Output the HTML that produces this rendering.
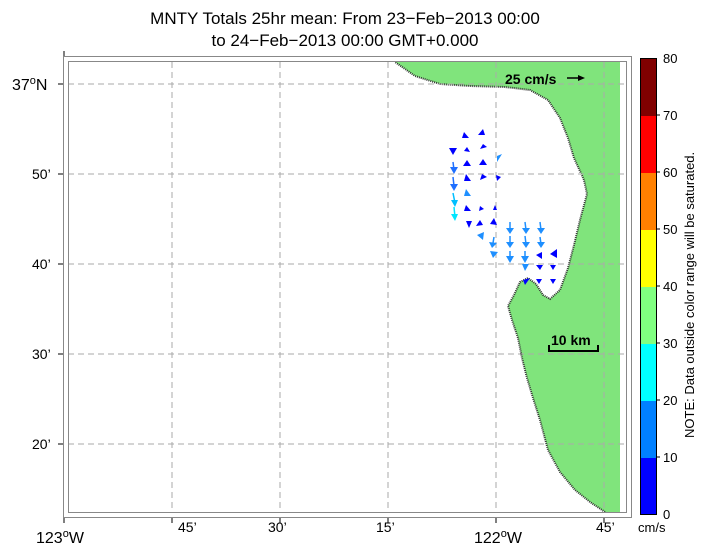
<!DOCTYPE html><html><head><style>body{margin:0;background:#fff}svg{font-family:"Liberation Sans",sans-serif}</style></head><body>
<svg width="703" height="548" xmlns="http://www.w3.org/2000/svg">
<rect width="703" height="548" fill="#fff"/>
<text x="345" y="24" font-size="17" text-anchor="middle">MNTY Totals 25hr mean: From 23−Feb−2013 00:00</text>
<text x="345" y="46" font-size="17" text-anchor="middle">to 24−Feb−2013 00:00 GMT+0.000</text>
<polygon fill="#80e47c" points="395,62 620,62 620,512 605,512 590,502 575,490 560,472 548,450 540,420 533,398 527,378 522,358 518,338 512,320 508,306 514,295 520,282 528,278 536,284 543,295 550,299 560,290 568,268 574,245 580,220 587,194 584,180 574,158 568,138 560,118 548,100 530,90 505,87 470,86 440,84 415,76"/>
<polyline fill="none" stroke="#333" stroke-width="2" stroke-dasharray="1,1" points="605,512 590,502 575,490 560,472 548,450 540,420 533,398 527,378 522,358 518,338 512,320 508,306 514,295 520,282 528,278 536,284 543,295 550,299 560,290 568,268 574,245 580,220 587,194 584,180 574,158 568,138 560,118 548,100 530,90 505,87 470,86 440,84 415,76 395,62"/>
<g stroke="#aaa" stroke-dasharray="6,4" stroke-width="1">
<line x1="68" y1="84" x2="626" y2="84"/><line x1="68" y1="174" x2="626" y2="174"/><line x1="68" y1="264" x2="626" y2="264"/><line x1="68" y1="354" x2="626" y2="354"/><line x1="68" y1="444" x2="626" y2="444"/>
<line x1="172" y1="62" x2="172" y2="512"/><line x1="280" y1="62" x2="280" y2="512"/><line x1="388" y1="62" x2="388" y2="512"/><line x1="496" y1="62" x2="496" y2="512"/><line x1="604" y1="62" x2="604" y2="512"/>
</g>
<rect x="63.5" y="56.5" width="568" height="461" fill="none" stroke="#888"/>
<rect x="68.5" y="61.5" width="558" height="451" fill="none" stroke="#888"/>
<g stroke="#000"><line x1="58" y1="84" x2="63" y2="84"/><line x1="58" y1="174" x2="63" y2="174"/><line x1="58" y1="264" x2="63" y2="264"/><line x1="58" y1="354" x2="63" y2="354"/><line x1="58" y1="444" x2="63" y2="444"/>
<line x1="64" y1="51" x2="64" y2="56"/><line x1="64" y1="518" x2="64" y2="523"/><line x1="172" y1="518" x2="172" y2="523"/><line x1="280" y1="518" x2="280" y2="523"/><line x1="388" y1="518" x2="388" y2="523"/><line x1="496" y1="518" x2="496" y2="523"/><line x1="604" y1="518" x2="604" y2="523"/></g>
<g font-size="14">
<text x="12" y="90" font-size="16">37<tspan dy="-6" font-size="11">o</tspan><tspan dy="6">N</tspan></text>
<text x="32" y="179">50’</text><text x="32" y="269">40’</text><text x="32" y="359">30’</text><text x="32" y="449">20’</text>
<text x="36" y="543" font-size="16">123<tspan dy="-6" font-size="11">o</tspan><tspan dy="6">W</tspan></text>
<text x="178" y="532">45’</text><text x="268" y="532">30’</text><text x="376" y="532">15’</text>
<text x="474" y="543" font-size="16">122<tspan dy="-6" font-size="11">o</tspan><tspan dy="6">W</tspan></text>
<text x="596" y="532">45’</text>
</g>
<text x="505" y="84" font-size="14" font-weight="bold">25 cm/s</text>
<line x1="567" y1="78" x2="580" y2="78" stroke="#000" stroke-width="1.5"/><polygon points="585,78 578,75 578,81"/>
<text x="551" y="345" font-size="14" font-weight="bold">10 km</text>
<path d="M549,345V351H598V345" fill="none" stroke="#000" stroke-width="2"/>
<g>
<polygon points="464,132 469,138 462,138" fill="#0000ff"/>
<polygon points="483,129 485,135 478,135" fill="#0000ff"/>
<polygon points="449,148 457,148 453,155" fill="#0000ff"/>
<polygon points="467,147 470,152 464,151" fill="#0000ff"/>
<polygon points="483,144 487,147 480,149" fill="#0000ff"/>
<line x1="453" y1="162" x2="454" y2="170" stroke="#1e6fff" stroke-width="1.5"/><polygon points="450,167 458,167 454,174" fill="#1e6fff"/>
<polygon points="467,160 471,166 463,166" fill="#0000ff"/>
<polygon points="483,159 487,165 479,165" fill="#0000ff"/>
<polygon points="497,156 502,154 497,162" fill="#1e8fff"/>
<line x1="453" y1="177" x2="454" y2="186" stroke="#1e6fff" stroke-width="1.5"/><polygon points="450,184 458,184 454,191" fill="#1e6fff"/>
<polygon points="466,174 471,181 464,181" fill="#0000ff"/>
<polygon points="482,174 487,177 480,180" fill="#0000ff"/>
<polygon points="496,175 501,177 497,181" fill="#0000ff"/>
<line x1="453" y1="193" x2="455" y2="203" stroke="#00bfff" stroke-width="1.5"/><polygon points="451,200 458,200 455,207" fill="#00bfff"/>
<polygon points="466,189 471,196 464,196" fill="#1e8fff"/>
<line x1="454" y1="207" x2="455" y2="217" stroke="#00e5ff" stroke-width="1.5"/><polygon points="451,214 458,214 455,221" fill="#00e5ff"/>
<polygon points="466,205 471,211 464,211" fill="#0000ff"/>
<polygon points="480,206 484,209 479,211" fill="#0000ff"/>
<polygon points="495,205 497,210 493,210" fill="#0000ff"/>
<polygon points="466,221 472,221 469,228" fill="#0000ff"/>
<polygon points="480,220 483,225 476,226" fill="#0000ff"/>
<polygon points="494,218 497,225 490,224" fill="#0000ff"/>
<polygon points="477,235 484,232 483,240" fill="#1e8fff"/>
<g stroke="#1e8fff" stroke-width="1.5"><line x1="510" y1="222" x2="510" y2="230"/><line x1="525" y1="222" x2="526" y2="230"/><line x1="540" y1="222" x2="541" y2="230"/><line x1="510" y1="236" x2="510" y2="244"/><line x1="525" y1="236" x2="526" y2="244"/><line x1="540" y1="237" x2="541" y2="244"/><line x1="510" y1="251" x2="510" y2="258"/><line x1="525" y1="251" x2="525" y2="258"/><line x1="494" y1="237" x2="493" y2="243"/></g>
<g fill="#1e8fff"><polygon points="506,228 514,228 510,234"/><polygon points="522,228 530,228 526,234"/><polygon points="537,228 545,228 541,234"/><polygon points="506,242 514,242 510,248"/><polygon points="522,242 530,242 526,248"/><polygon points="537,242 545,242 541,248"/><polygon points="506,256 514,256 510,263"/><polygon points="521,256 529,256 525,263"/><polygon points="489,242 497,243 492,248"/><polygon points="490,251 498,252 493,258"/><polygon points="522,264 529,264 525,271"/></g>
<g fill="#0000ff"><polygon points="550,254 557,249 557,258"/><polygon points="536,255 542,252 542,259"/><polygon points="536,265 543,265 540,270"/><polygon points="550,265 556,265 553,270"/><polygon points="523,280 530,278 525,285"/><polygon points="536,279 542,279 539,284"/><polygon points="550,279 556,279 553,284"/></g>
</g>
<g>
<rect x="640" y="458" width="16" height="57" fill="#0000ff"/>
<rect x="640" y="401" width="16" height="57" fill="#0080ff"/>
<rect x="640" y="344" width="16" height="57" fill="#00ffff"/>
<rect x="640" y="287" width="16" height="57" fill="#80ff80"/>
<rect x="640" y="230" width="16" height="57" fill="#ffff00"/>
<rect x="640" y="173" width="16" height="57" fill="#ff8000"/>
<rect x="640" y="116" width="16" height="57" fill="#ff0000"/>
<rect x="640" y="58" width="16" height="58" fill="#800000"/>
<rect x="640.5" y="58.5" width="16" height="456" fill="none" stroke="#000"/>
<g stroke="#000"><line x1="656" y1="115" x2="660" y2="115"/><line x1="656" y1="172" x2="660" y2="172"/><line x1="656" y1="229" x2="660" y2="229"/><line x1="656" y1="286" x2="660" y2="286"/><line x1="656" y1="343" x2="660" y2="343"/><line x1="656" y1="400" x2="660" y2="400"/><line x1="656" y1="457" x2="660" y2="457"/></g>
<g font-size="13"><text x="663" y="63">80</text><text x="663" y="120">70</text><text x="663" y="177">60</text><text x="663" y="234">50</text><text x="663" y="291">40</text><text x="663" y="348">30</text><text x="663" y="405">20</text><text x="663" y="462">10</text><text x="663" y="519">0</text></g>
<text x="638" y="532" font-size="13">cm/s</text>
<text transform="translate(694,438) rotate(-90)" font-size="13">NOTE: Data outside color range will be saturated.</text>
</g>
</svg>
</body></html>
